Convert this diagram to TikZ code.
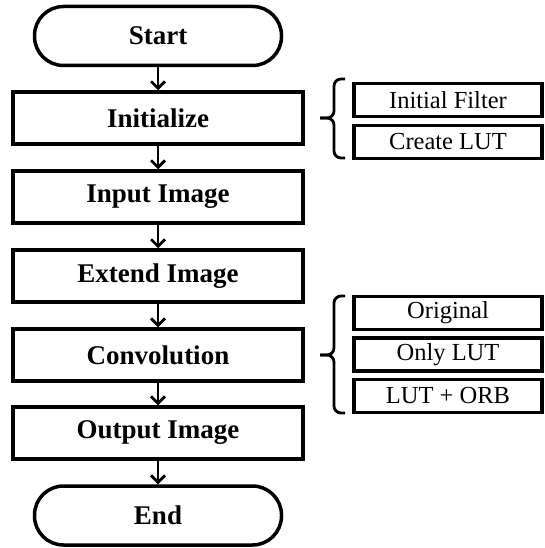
\documentclass[tikz,border=0pt]{standalone}
\usepackage{fontspec}
\setmainfont{Liberation Serif}
\usetikzlibrary{arrows.meta}
\begin{document}
\begin{tikzpicture}[x=1pt,y=-1pt,
  mainbox/.style={draw,line width=3.5pt,minimum width=290pt,minimum height=52pt,inner sep=0pt,
    font=\fontsize{27}{32}\selectfont\bfseries},
  term/.style={mainbox,minimum width=247pt,minimum height=59pt,rounded corners=29pt},
  sidebox/.style={draw,line width=3.2pt,minimum width=188pt,minimum height=33pt,inner sep=0pt,
    font=\fontsize{24.5}{28}\selectfont},
  flow/.style={line width=2.8pt,-{Straight Barb[length=7pt,width=14pt,line width=2.8pt]}},
  bracestyle/.style={line width=2.8pt,rounded corners=7pt}
]
\useasboundingbox (0,0) rectangle (544,548);
\node[term] (start) at (158,36) {Start};
\node[mainbox] (init) at (158,118) {Initialize};
\node[mainbox] (input) at (158,197) {Input Image};
\node[mainbox] (extend) at (158,276) {Extend Image};
\node[mainbox] (conv) at (158,355) {Convolution};
\node[mainbox] (output) at (158,433) {Output Image};
\node[term] (end) at (158,515.5) {End};
\foreach \a/\b in {start/init,init/input,input/extend,extend/conv,conv/output,output/end}
  \draw[flow] (\a) -- (\b);
\node[sidebox] (filt) at (448,100) {Initial Filter};
\node[sidebox] (lut) at (448,142) {Create LUT};
\node[sidebox] (orig) at (448,313) {Original};
\node[sidebox] (only) at (448,354.5) {Only LUT};
\node[sidebox] (orb) at (448,396) {LUT + ORB};
\draw[bracestyle] (345,79) -- (334,79) -- (334,118) -- (320,118);
\draw[bracestyle] (320,118) -- (334,118) -- (334,158) -- (345,158);
\draw[bracestyle] (345,296) -- (334,296) -- (334,355) -- (320,355);
\draw[bracestyle] (320,355) -- (334,355) -- (334,413) -- (345,413);
\end{tikzpicture}
\end{document}
